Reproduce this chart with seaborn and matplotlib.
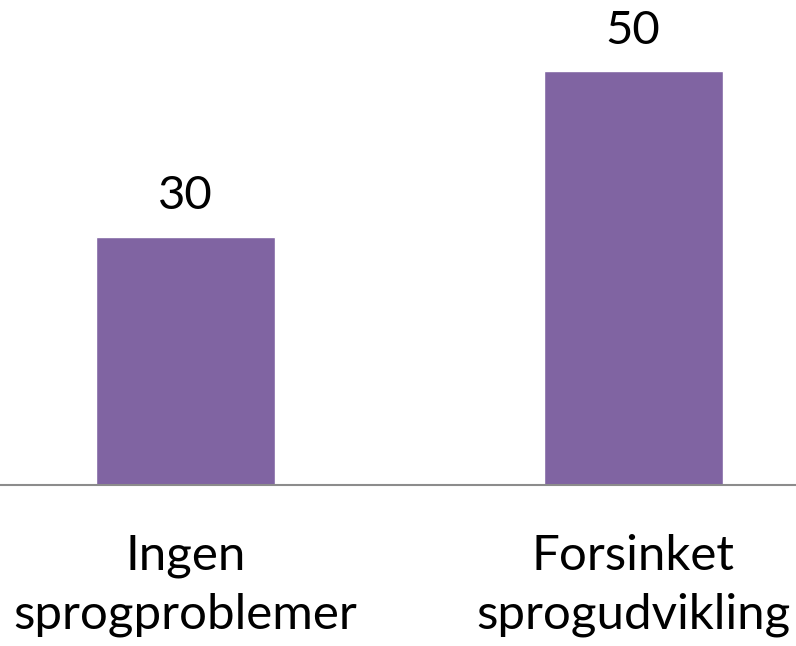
import matplotlib
matplotlib.use("Agg")
import matplotlib.pyplot as plt
import seaborn as sns

categories = ["Ingen\nsprogproblemer", "Forsinket\nsprogudvikling"]
values = [30, 50]

BAR_COLOR = "#8064A2"
AXIS_COLOR = "#8C8C8C"

sns.set_style("white")
plt.rcParams["font.family"] = ["Lato", "DejaVu Sans"]
plt.rcParams["text.color"] = "black"
plt.rcParams["xtick.color"] = "black"

fig = plt.figure(figsize=(7.96, 6.46), dpi=100)
ax = fig.add_axes([0, 161 / 646, 1, 485 / 646])

sns.barplot(x=categories, y=values, color=BAR_COLOR, saturation=1,
            width=0.4, ax=ax)

ax.set_xlim(-185.5 / 447.5, (796 - 185.5) / 447.5)
ax.set_ylim(0, 485 / 8.28)

ax.bar_label(ax.containers[0], fmt="%d", padding=14, fontsize=34,
             color="black")

for side in ["left", "right", "top"]:
    ax.spines[side].set_visible(False)
ax.spines["bottom"].set_color(AXIS_COLOR)
ax.spines["bottom"].set_linewidth(1.5)

ax.set_yticks([])
ax.set_xlabel("")
ax.set_ylabel("")
ax.tick_params(axis="x", length=0, pad=35, labelsize=35.5,
               labelcolor="black")
for lbl in ax.get_xticklabels():
    lbl.set_linespacing(1.42)

fig.savefig("out.png", dpi=100)
